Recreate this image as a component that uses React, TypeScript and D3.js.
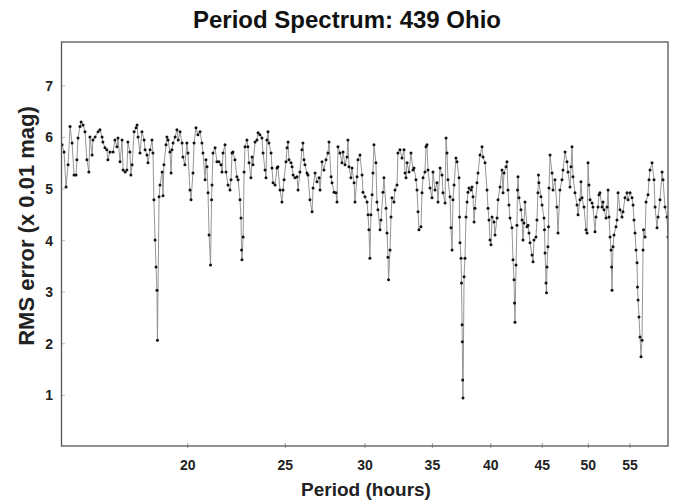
import React from "react";
import * as d3 from "d3";

const title = "Period Spectrum: 439 Ohio";
const xLabel = "Period (hours)";
const yLabel = "RMS error (x 0.01 mag)";
const xTicks = [20, 25, 30, 35, 40, 45, 50, 55];
const yTicks = [1, 2, 3, 4, 5, 6, 7];
const periodDomain = [15, 60];
const rmsDomain = [0, 7.85];

const periodHours = [
  15.00,15.07,15.14,15.21,15.28,15.35,15.42,15.49,15.52,15.56,
  15.63,15.67,15.74,15.81,15.88,15.95,15.99,16.07,16.10,16.18,
  16.29,16.36,16.44,16.47,16.55,16.62,16.66,16.74,16.86,16.93,
  17.01,17.05,17.13,17.21,17.25,17.33,17.40,17.44,17.52,17.56,
  17.61,17.69,17.77,17.81,17.85,17.93,18.01,18.10,18.14,18.22,
  18.26,18.35,18.43,18.47,
  18.51,18.56,18.60,18.64,18.66,18.73,18.77,18.86,18.90,18.94,
  19.03,19.07,19.12,19.20,19.25,19.29,19.34,19.43,19.51,19.57,
  19.65,19.74,19.78,19.87,19.96,20.01,20.10,20.15,20.24,20.29,
  20.38,20.47,20.57,20.66,20.71,20.81,20.85,20.90,20.95,21.00,
  21.07,21.12,21.14,21.19,21.29,21.38,21.48,21.58,21.63,21.68,
  21.78,21.83,21.93,22.03,22.08,22.13,22.18,22.28,22.38,22.44,
  22.54,22.59,22.62,22.64,22.70,22.75,22.80,22.90,22.95,23.01,
  23.11,23.17,23.22,23.33,23.43,23.49,23.59,23.70,23.76,23.87,
  23.92,23.97,24.03,24.08,24.20,24.25,24.31,24.42,24.53,24.58,
  24.70,24.81,24.87,24.93,25.04,25.10,25.16,25.21,25.33,25.39,
  25.45,25.56,25.68,25.74,25.85,25.97,26.03,26.09,26.15,26.27,
  26.33,26.45,26.58,26.64,26.76,26.88,27.01,27.07,27.19,27.31,
  27.44,27.56,27.63,27.76,27.82,27.95,28.07,28.14,28.20,28.33,
  28.46,28.53,28.66,28.79,28.85,28.92,29.05,29.12,29.26,29.32,
  29.46,29.52,29.66,29.80,29.86,30.00,30.14,30.21,30.27,30.34,
  30.41,30.49,30.55,30.62,30.76,30.83,30.90,31.05,31.12,31.26,
  31.33,31.48,31.55,31.62,31.66,31.77,31.84,31.91,32.06,32.13,
  32.28,32.35,32.50,32.65,32.80,32.88,32.95,33.03,33.18,33.33,
  33.48,33.56,33.71,33.79,33.87,33.94,34.10,34.18,34.26,34.41,
  34.49,34.57,34.65,34.81,34.97,35.05,35.21,35.37,35.45,35.62,
  35.78,35.86,36.03,36.11,36.19,36.27,36.44,36.52,36.61,36.69,
  36.78,36.94,37.03,37.20,37.24,37.28,37.37,37.41,37.46,37.48,
  37.51,37.54,37.63,37.71,37.80,37.89,37.97,38.06,38.23,38.32,
  38.41,38.50,38.58,38.76,38.85,39.03,39.21,39.30,39.48,39.66,
  39.75,39.84,39.93,40.02,40.12,40.30,40.39,40.58,40.67,40.86,
  41.04,41.14,41.23,41.42,41.51,41.61,41.70,41.80,41.99,42.09,
  42.19,42.23,42.28,42.38,42.47,42.52,42.57,42.67,42.86,42.97,
  43.06,43.16,43.26,43.46,43.56,43.66,43.76,43.96,44.06,44.16,
  44.36,44.46,44.56,44.61,44.66,44.87,44.98,45.18,45.23,45.29,
  45.39,45.44,45.49,45.59,45.65,45.70,45.81,46.02,46.12,46.33,
  46.54,46.65,46.86,47.08,47.19,47.41,47.62,47.73,47.95,48.06,
  48.17,48.28,48.50,48.73,48.84,49.06,49.17,49.29,49.51,49.74,
  49.85,49.97,50.08,50.20,50.43,50.54,50.77,50.89,51.12,51.24,
  51.35,51.59,51.71,51.83,52.07,52.19,52.31,52.43,52.55,52.67,
  52.73,52.79,52.91,53.03,53.27,53.39,53.52,53.76,54.01,54.13,
  54.38,54.63,54.76,55.01,55.26,55.39,55.51,55.64,55.77,55.90,
  55.96,56.03,56.15,56.28,56.41,56.54,56.67,56.73,56.93,57.06,
  57.32,57.45,57.58,57.85,58.11,58.25,58.51,58.65,58.91,59.19,
  59.32,59.59,59.86,60.00,
];

const rmsError = [
  5.86,5.72,5.04,5.47,6.21,5.89,5.27,5.27,5.57,5.99,
  6.21,6.30,6.24,6.11,5.57,5.33,6.01,5.66,5.95,6.01,
  6.11,6.15,6.01,5.91,5.80,5.76,5.57,5.72,5.72,5.95,
  5.82,5.99,5.53,5.95,5.37,5.33,5.37,5.91,5.72,5.27,
  5.47,6.11,6.19,6.24,6.01,5.70,6.11,5.95,5.76,5.66,
  5.51,5.76,5.95,5.70,
  4.79,4.01,3.49,3.04,2.07,4.85,5.08,5.33,4.87,5.47,
  5.86,6.01,5.95,5.72,5.31,5.76,5.89,6.01,6.15,5.95,
  6.11,5.89,5.62,5.47,5.89,5.70,4.98,4.79,5.31,5.89,
  6.19,6.05,6.11,5.89,5.70,5.18,5.57,5.43,4.93,4.11,
  3.53,4.79,5.08,5.70,5.80,5.53,5.53,5.47,5.33,5.70,
  5.86,5.33,5.08,4.98,5.18,5.70,5.72,5.57,5.24,5.18,
  4.79,4.44,3.82,3.63,4.07,5.33,5.82,5.95,5.82,5.51,
  5.22,5.62,5.47,5.91,5.95,6.09,6.05,5.99,5.70,5.37,
  5.22,5.95,6.11,5.89,5.70,5.41,5.12,5.08,5.41,5.43,
  4.98,4.75,4.98,5.18,5.53,5.80,5.91,5.57,5.51,5.43,
  5.27,5.22,5.24,4.98,5.33,5.76,5.89,5.57,5.47,5.31,
  5.27,4.79,4.56,5.02,5.31,5.14,5.22,4.98,5.53,5.37,
  5.57,5.70,5.91,5.24,5.12,4.94,4.93,4.75,5.82,5.70,
  5.51,5.72,5.47,5.62,5.95,5.43,5.22,5.41,5.12,4.75,
  5.24,5.57,5.66,5.27,4.94,4.85,4.75,4.50,4.21,3.66,
  4.50,4.89,5.31,5.86,5.51,4.75,4.60,4.21,4.40,4.94,
  5.22,4.63,4.15,3.68,3.24,3.82,4.46,4.83,4.75,4.98,
  5.08,5.70,5.76,5.60,5.76,5.31,5.22,5.51,5.33,5.70,
  5.37,5.41,5.18,4.98,4.56,4.21,4.27,4.93,5.22,5.33,
  5.82,5.86,5.37,5.02,4.83,5.33,4.98,5.12,4.75,5.41,
  5.27,4.93,4.73,5.99,5.70,5.18,4.85,4.25,3.82,4.79,
  5.08,5.60,5.53,5.22,4.46,3.96,3.66,3.18,2.37,2.04,
  1.30,0.95,3.30,3.66,4.46,4.75,4.94,5.02,4.98,5.04,
  4.85,4.36,4.63,5.12,5.31,5.66,5.82,5.62,5.51,4.98,
  4.63,4.40,4.01,3.92,4.46,4.36,4.11,4.44,4.79,5.04,
  5.37,4.93,5.31,5.43,5.53,4.98,4.69,4.44,4.25,3.63,
  3.24,2.79,2.42,3.53,4.30,4.98,5.24,4.83,4.60,4.40,
  4.01,4.34,4.75,4.27,4.30,4.15,3.96,3.72,3.59,4.01,
  4.07,4.40,4.93,5.27,5.12,4.85,4.69,4.44,4.21,3.76,
  3.18,2.99,3.49,3.88,4.27,5.02,5.66,5.31,4.98,5.18,
  4.65,4.15,4.98,5.18,5.37,5.72,5.53,5.33,5.04,5.43,
  5.82,5.24,4.93,4.69,4.50,4.79,5.14,4.83,4.65,4.21,
  4.15,5.51,5.08,4.79,4.73,4.65,4.17,4.46,4.65,4.89,
  4.93,4.65,4.75,4.60,4.44,4.65,4.98,4.46,4.07,3.82,
  3.49,3.04,3.88,4.11,4.27,4.40,4.93,4.60,4.46,4.56,
  4.83,4.93,4.79,4.93,4.83,4.69,4.40,4.15,3.82,3.57,
  3.10,2.85,2.52,2.13,1.75,2.07,3.82,4.21,4.07,4.75,
  4.89,5.18,5.37,5.51,5.18,4.65,4.25,4.46,4.79,5.33,
  5.18,4.65,4.46,4.07,
];

const W = 677;
const H = 500;
const plotLeft = 62;
const plotRight = 668;
const plotTop = 42;
const plotBottom = 446;
const FONT = "'Liberation Sans', Arial, Helvetica, sans-serif";

export default function App() {
  const x = d3.scaleLog().domain(periodDomain).range([plotLeft, plotRight]);
  const y = d3.scaleLinear().domain(rmsDomain).range([447, plotTop]);
  const n = Math.min(periodHours.length, rmsError.length);
  const pts: [number, number][] = [];
  for (let i = 0; i < n; i++) pts.push([periodHours[i], rmsError[i]]);
  const line = d3
    .line<[number, number]>()
    .x((d) => x(d[0]))
    .y((d) => y(d[1]));

  return (
    <svg
      width={W}
      height={H}
      viewBox={`0 0 ${W} ${H}`}
      style={{ position: "absolute", left: 0, top: 0, background: "#fff", display: "block" }}
    >
      <rect x={0} y={0} width={W} height={H} fill="#fff" />
      <defs>
        <clipPath id="plotClip">
          <rect x={plotLeft} y={plotTop} width={plotRight - plotLeft} height={plotBottom - plotTop} />
        </clipPath>
      </defs>
      <text
        x={347}
        y={28}
        textAnchor="middle"
        fontFamily={FONT}
        fontWeight="bold"
        fontSize={24}
        fill="#111"
      >
        {title}
      </text>

      {yTicks.map((t) => (
        <g key={"y" + t}>
          <line x1={plotLeft} x2={plotLeft + 3} y1={y(t)} y2={y(t)} stroke="#bbb" strokeWidth={1} />
          <text
            x={53}
            y={y(t)}
            dy="0.36em"
            textAnchor="end"
            fontFamily={FONT}
            fontWeight="bold"
            fontSize={14}
            fill="#222"
          >
            {t}
          </text>
        </g>
      ))}

      {xTicks.map((t) => (
        <g key={"x" + t}>
          <line x1={x(t)} x2={x(t)} y1={plotBottom - 3} y2={plotBottom + 2} stroke="#999" strokeWidth={1} />
          <text
            x={x(t)}
            y={470}
            textAnchor="middle"
            fontFamily={FONT}
            fontWeight="bold"
            fontSize={14}
            fill="#222"
          >
            {t}
          </text>
        </g>
      ))}

      <g clipPath="url(#plotClip)">
        <path d={line(pts) || ""} fill="none" stroke="#8a8a8a" strokeWidth={0.9} />
        {pts.map((d, i) => (
          <circle key={i} cx={x(d[0])} cy={y(d[1])} r={1.5} fill="#111" />
        ))}
      </g>

      <rect
        x={plotLeft - 0.5}
        y={plotTop}
        width={plotRight - plotLeft + 0.5}
        height={plotBottom - plotTop}
        fill="none"
        stroke="#555"
        strokeWidth={1.3}
      />

      <text
        x={366}
        y={496}
        textAnchor="middle"
        fontFamily={FONT}
        fontWeight="bold"
        fontSize={19}
        fill="#222"
      >
        {xLabel}
      </text>
      <text
        transform={`translate(34, 226) rotate(-90)`}
        textAnchor="middle"
        fontFamily={FONT}
        fontWeight="bold"
        fontSize={22}
        fill="#222"
      >
        {yLabel}
      </text>
    </svg>
  );
}
